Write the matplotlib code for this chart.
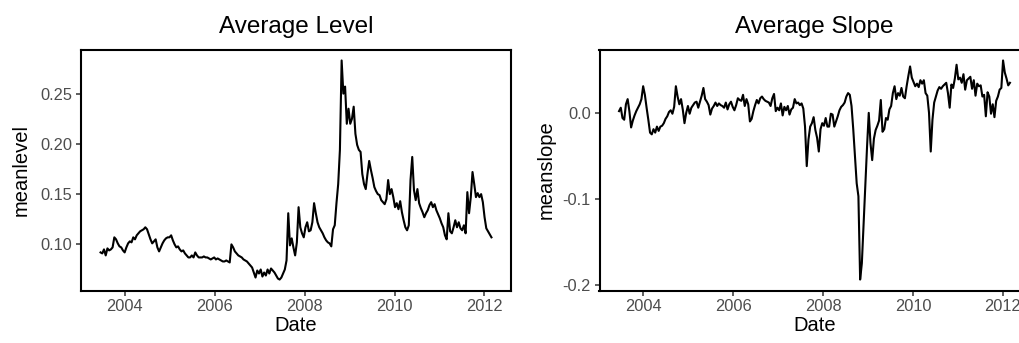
import matplotlib
matplotlib.use("Agg")
import matplotlib.pyplot as plt
import matplotlib.dates as mdates
import pandas as pd

plt.rcParams["font.family"] = ["Liberation Sans", "DejaVu Sans"]

# fortnightly averages of the curve level and slope
start_date = "2003-06-17"
step = "14D"

meanlevel = [
    0.092, 0.091, 0.095, 0.089, 0.096, 0.094, 0.095, 0.097, 0.107, 0.105,
    0.101, 0.098, 0.097, 0.094, 0.092, 0.097, 0.101, 0.103, 0.102, 0.107,
    0.105, 0.109, 0.111, 0.113, 0.114, 0.115, 0.117, 0.115, 0.110, 0.105,
    0.101, 0.103, 0.105, 0.097, 0.093, 0.097, 0.101, 0.104, 0.106, 0.107,
    0.107, 0.109, 0.104, 0.100, 0.097, 0.098, 0.095, 0.093, 0.094, 0.091,
    0.089, 0.087, 0.087, 0.089, 0.087, 0.092, 0.089, 0.087, 0.087, 0.087,
    0.088, 0.087, 0.087, 0.086, 0.085, 0.086, 0.087, 0.085, 0.086, 0.085,
    0.084, 0.083, 0.083, 0.084, 0.083, 0.082, 0.100, 0.097, 0.093, 0.091,
    0.089, 0.088, 0.087, 0.085, 0.084, 0.083, 0.081, 0.079, 0.077, 0.072,
    0.067, 0.074, 0.071, 0.075, 0.068, 0.072, 0.069, 0.075, 0.071, 0.076,
    0.074, 0.072, 0.069, 0.066, 0.065, 0.067, 0.071, 0.075, 0.084, 0.131,
    0.099, 0.106, 0.097, 0.089, 0.102, 0.137, 0.117, 0.111, 0.107, 0.117,
    0.122, 0.113, 0.114, 0.122, 0.141, 0.131, 0.122, 0.117, 0.114, 0.111,
    0.107, 0.104, 0.102, 0.101, 0.098, 0.115, 0.119, 0.141, 0.160, 0.194,
    0.283, 0.250, 0.257, 0.220, 0.235, 0.220, 0.225, 0.237, 0.210, 0.199,
    0.194, 0.192, 0.170, 0.160, 0.155, 0.170, 0.183, 0.174, 0.166, 0.157,
    0.153, 0.150, 0.149, 0.144, 0.142, 0.140, 0.145, 0.164, 0.150, 0.155,
    0.147, 0.137, 0.141, 0.135, 0.143, 0.132, 0.124, 0.117, 0.114, 0.119,
    0.164, 0.187, 0.154, 0.144, 0.155, 0.141, 0.136, 0.132, 0.127, 0.131,
    0.134, 0.139, 0.142, 0.137, 0.140, 0.134, 0.130, 0.126, 0.121, 0.117,
    0.109, 0.105, 0.131, 0.113, 0.111, 0.117, 0.124, 0.117, 0.122, 0.116,
    0.114, 0.119, 0.111, 0.152, 0.131, 0.147, 0.172, 0.160, 0.147, 0.151,
    0.147, 0.150, 0.142, 0.127, 0.116, 0.113, 0.110, 0.107,
]

meanslope = [
    0.002, 0.006, -0.006, -0.008, 0.010, 0.016, 0.002, -0.017, -0.009, -0.003,
    0.002, 0.006, 0.010, 0.016, 0.031, 0.021, 0.006, -0.008, -0.023, -0.025,
    -0.019, -0.023, -0.016, -0.021, -0.016, -0.015, -0.012, -0.007, -0.004, 0.001,
    0.003, -0.001, 0.007, 0.031, 0.019, 0.010, 0.016, 0.004, -0.012, 0.000,
    0.008, -0.001, 0.006, 0.009, 0.012, 0.013, 0.006, 0.013, 0.020, 0.029,
    0.016, 0.013, 0.009, -0.002, 0.005, 0.008, 0.012, 0.008, 0.011, 0.009,
    0.008, 0.006, 0.012, 0.004, 0.010, 0.013, 0.007, 0.003, 0.009, 0.017,
    0.015, 0.014, 0.021, 0.008, 0.016, 0.010, -0.010, -0.007, 0.002, 0.009,
    0.015, 0.011, 0.017, 0.019, 0.016, 0.014, 0.013, 0.012, 0.008, 0.017,
    0.022, 0.002, 0.006, 0.003, 0.011, -0.003, 0.007, 0.003, 0.008, -0.002,
    0.004, 0.006, 0.016, 0.011, 0.012, 0.009, 0.011, 0.005, -0.016, -0.062,
    -0.031, -0.016, -0.012, -0.005, -0.020, -0.029, -0.045, -0.019, -0.012, -0.015,
    -0.006, -0.016, -0.016, -0.001, -0.002, -0.016, -0.010, -0.004, 0.003, 0.007,
    0.009, 0.012, 0.019, 0.023, 0.021, 0.008, -0.019, -0.050, -0.082, -0.097,
    -0.194, -0.175, -0.130, -0.085, -0.040, 0.000, -0.035, -0.055, -0.030, -0.020,
    -0.015, -0.009, 0.015, -0.022, -0.019, -0.006, -0.008, 0.004, 0.008, 0.023,
    0.031, 0.016, 0.023, 0.020, 0.029, 0.019, 0.017, 0.031, 0.043, 0.054,
    0.041, 0.036, 0.031, 0.034, 0.030, 0.038, 0.034, 0.038, 0.023, 0.020,
    0.000, -0.045, -0.008, 0.012, 0.019, 0.026, 0.030, 0.028, 0.031, 0.033,
    0.035, 0.023, 0.006, 0.033, 0.029, 0.040, 0.056, 0.039, 0.041, 0.035,
    0.045, 0.027, 0.038, 0.040, 0.042, 0.028, 0.038, 0.020, 0.034, 0.031,
    0.032, 0.019, 0.021, -0.004, 0.024, 0.019, -0.001, 0.010, -0.005, 0.014,
    0.019, 0.027, 0.029, 0.061, 0.047, 0.040, 0.032, 0.035,
]

level_ticks = [0.10, 0.15, 0.20, 0.25]
level_labels = ["0.10", "0.15", "0.20", "0.25"]
slope_ticks = [-0.2, -0.1, 0.0]
slope_labels = ["-0.2", "-0.1", "0.0"]

level_dates = pd.date_range(start_date, periods=len(meanlevel), freq=step)
slope_dates = pd.date_range(start_date, periods=len(meanslope), freq=step)

fig = plt.figure(figsize=(10.2, 3.43), dpi=100)
W, H = 1020.0, 343.0
ax1 = fig.add_axes([81 / W, (H - 290.5) / H, 430 / W, 241 / H])
ax2 = fig.add_axes([599.5 / W, (H - 290.5) / H, 430 / W, 241 / H])

tick_color = "#4D4D4D"


def style(ax, title, ylabel, yticks, ylabels, ylabelpad):
    ax.set_facecolor("white")
    for sp in ax.spines.values():
        sp.set_color("black")
        sp.set_linewidth(1.5)
    ax.xaxis.set_major_locator(mdates.YearLocator(2))
    ax.xaxis.set_major_formatter(mdates.DateFormatter("%Y"))
    ax.set_yticks(yticks)
    ax.set_yticklabels(ylabels)
    ax.tick_params(axis="both", which="major", length=3.8, width=1.1,
                   color="#333333", labelcolor=tick_color, labelsize=11.8,
                   pad=2.5)
    ax.set_title(title, fontsize=17.5, color="black", pad=12)
    ax.set_xlabel("Date", fontsize=14.5, color="black", labelpad=1)
    ax.set_ylabel(ylabel, fontsize=14.5, color="black", labelpad=ylabelpad)


ax1.plot(level_dates, meanlevel, color="black", linewidth=1.5)
ax2.plot(slope_dates, meanslope, color="black", linewidth=1.5)

style(ax1, "Average Level", "meanlevel", level_ticks, level_labels, 7)
style(ax2, "Average Slope", "meanslope", slope_ticks, slope_labels, 5)

fig.savefig("out.png", dpi=100, facecolor="white")
